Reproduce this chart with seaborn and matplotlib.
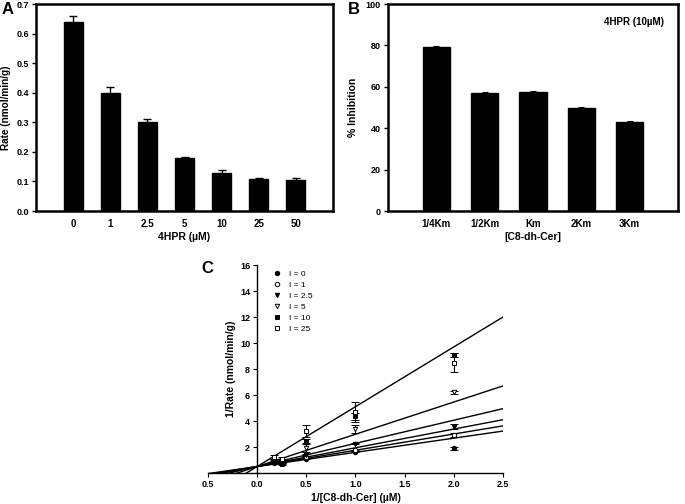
import numpy as np
import pandas as pd
import matplotlib
matplotlib.use('Agg')
import matplotlib.pyplot as plt
import seaborn as sns

# ---- panel A: rate vs 4HPR
hpr_conc = ['0', '1', '2.5', '5', '10', '25', '50']
rate = [0.64, 0.40, 0.30, 0.18, 0.13, 0.108, 0.104]
rate_err = [0.02, 0.02, 0.01, 0.002, 0.009, 0.005, 0.008]

# ---- panel B: % inhibition vs substrate
substrate = ['1/4Km', '1/2Km', 'Km', '2Km', '3Km']
inhibition = [79.2, 57.2, 57.5, 49.7, 43.1]
inhibition_err = [0.4, 0.3, 0.3, 0.4, 0.4]

# ---- panel C: Lineweaver-Burk
inv_s = [0.167, 0.25, 0.5, 1.0, 2.0]
inhib_labels = ['I = 0', 'I = 1', 'I = 2.5', 'I = 5', 'I = 10', 'I = 25']
inv_rate = {
    'I = 0':   [0.75, 0.80, 1.10, 1.65, 1.90],
    'I = 1':   [0.85, 0.90, 1.20, 1.75, 2.95],
    'I = 2.5': [0.80, 0.75, 1.40, 2.25, 3.55],
    'I = 5':   [0.90, 1.00, 1.90, 3.40, 6.20],
    'I = 10':  [0.95, 0.70, 2.45, 4.35, 9.10],
    'I = 25':  [1.20, 1.10, 3.25, 4.70, 8.50],
}
inv_rate_err = {
    'I = 0':   [0.05, 0.05, 0.05, 0.05, 0.10],
    'I = 1':   [0.05, 0.05, 0.10, 0.05, 0.15],
    'I = 2.5': [0.05, 0.05, 0.10, 0.05, 0.20],
    'I = 5':   [0.10, 0.05, 0.30, 0.30, 0.10],
    'I = 10':  [0.10, 0.10, 0.15, 0.30, 0.15],
    'I = 25':  [0.15, 0.10, 0.45, 0.80, 0.70],
}
# fitted lines (intercept at 1/[S]=0, slope)
fit_intercept = [0.5, 0.5, 0.5, 0.5, 0.5, 0.5]
fit_slope = [1.09, 1.25, 1.44, 1.78, 2.48, 4.6]
fit_x = [-0.5, 2.5]

markers = ['o', 'o', 'v', 'v', 's', 's']
filled = [True, False, True, False, True, False]

sns.set_style('ticks')
plt.rcParams['font.family'] = ['Liberation Sans', 'DejaVu Sans']
plt.rcParams['axes.edgecolor'] = 'black'
plt.rcParams['xtick.color'] = 'black'
plt.rcParams['ytick.color'] = 'black'
plt.rcParams['text.color'] = 'black'
plt.rcParams['axes.labelcolor'] = 'black'

fig = plt.figure(figsize=(6.85, 5.04), dpi=100)
axA = fig.add_axes([0.0526, 0.5813, 0.4336, 0.4107])
axB = fig.add_axes([0.5664, 0.5813, 0.4234, 0.4107])
axC = fig.add_axes([0.3036, 0.0615, 0.4307, 0.4127])

# --- A
dfA = pd.DataFrame({'conc': hpr_conc, 'rate': rate})
sns.barplot(data=dfA, x='conc', y='rate', ax=axA, color='black',
            saturation=1, width=0.51, edgecolor='black')
axA.errorbar(np.arange(len(hpr_conc)), rate, yerr=rate_err, fmt='none',
             ecolor='black', elinewidth=1, capsize=3, capthick=1)
axA.set_xlim(-1, len(hpr_conc))
axA.set_ylim(0, 0.7)
axA.set_yticks(np.arange(0, 0.71, 0.1))
axA.set_yticklabels([f'{v:.1f}' for v in np.arange(0, 0.71, 0.1)])
axA.set_xlabel('4HPR (µM)', fontsize=7.5, fontweight='bold', labelpad=2)
axA.set_ylabel('Rate (nmol/min/g)', fontsize=7.2, fontweight='bold', labelpad=4)
axA.tick_params(axis='x', length=0, labelsize=7, pad=6)
axA.tick_params(axis='y', length=3, width=1, labelsize=6.5, pad=2)
for lab in axA.get_xticklabels() + axA.get_yticklabels():
    lab.set_fontweight('bold')
for sp in axA.spines.values():
    sp.set_visible(True)
    sp.set_linewidth(1.8)
fig.text(0.003, 0.997, 'A', fontsize=12, fontweight='bold', va='top', ha='left')

# --- B
dfB = pd.DataFrame({'sub': substrate, 'inh': inhibition})
sns.barplot(data=dfB, x='sub', y='inh', ax=axB, color='black',
            saturation=1, width=0.56, edgecolor='black')
axB.errorbar(np.arange(len(substrate)), inhibition, yerr=inhibition_err,
             fmt='none', ecolor='black', elinewidth=0.8, capsize=2.5, capthick=0.8)
axB.set_xlim(-1, len(substrate))
axB.set_ylim(0, 100)
axB.set_yticks(range(0, 101, 20))
axB.set_xlabel('[C8-dh-Cer]', fontsize=7.5, fontweight='bold', labelpad=2)
axB.set_ylabel('% Inhibition', fontsize=7.5, fontweight='bold', labelpad=6)
axB.tick_params(axis='x', length=0, labelsize=7, pad=6)
axB.tick_params(axis='y', length=3, width=1, labelsize=6.5, pad=2)
for lab in axB.get_xticklabels() + axB.get_yticklabels():
    lab.set_fontweight('bold')
for sp in axB.spines.values():
    sp.set_visible(True)
    sp.set_linewidth(1.8)
axB.text(0.745, 0.915, '4HPR (10µM)', transform=axB.transAxes, fontsize=7,
         fontweight='bold', ha='left', va='center')
fig.text(0.508, 0.997, 'B', fontsize=12, fontweight='bold', va='top', ha='left')

# --- C
handles = []
for k, lab in enumerate(inhib_labels):
    xs = np.array(fit_x)
    axC.plot(xs, fit_intercept[k] + fit_slope[k] * xs, color='black', lw=1.0)
    fc = 'black' if filled[k] else 'white'
    axC.errorbar(inv_s, inv_rate[lab], yerr=inv_rate_err[lab], fmt=markers[k],
                 markersize=3.2, mfc=fc, mec='black', mew=0.7, ecolor='black',
                 elinewidth=0.8, capsize=3, capthick=0.8, zorder=3)
    h, = axC.plot([], [], markers[k], markersize=3.2, mfc=fc, mec='black',
                  mew=0.7, linestyle='none', label=lab)
    handles.append(h)

axC.set_xlim(-0.5, 2.5)
axC.set_ylim(0, 16)
axC.set_xticks(np.arange(-0.5, 2.51, 0.5))
axC.set_xticklabels(['0.5', '0.0', '0.5', '1.0', '1.5', '2.0', '2.5'])
axC.set_yticks(range(2, 17, 2))
sns.despine(ax=axC)
axC.spines['left'].set_position(('data', 0))
axC.spines['left'].set_linewidth(1.0)
axC.spines['bottom'].set_linewidth(1.0)
axC.tick_params(axis='both', length=3, width=0.8, labelsize=6.5, pad=2)
for lab in axC.get_xticklabels() + axC.get_yticklabels():
    lab.set_fontweight('bold')
axC.set_xlabel('1/[C8-dh-Cer] (µM)', fontsize=7.5, fontweight='bold', labelpad=3)
axC.set_ylabel('1/Rate (nmol/min/g)', fontsize=7.5, fontweight='bold')
axC.yaxis.set_label_coords(0.095, 0.5)
axC.legend(handles=handles, loc='upper left', bbox_to_anchor=(0.2, 1.005),
           frameon=False, fontsize=6, handletextpad=1.0, labelspacing=0.38,
           handlelength=1.0, borderpad=0.2)
fig.text(0.294, 0.482, 'C', fontsize=12, fontweight='bold', va='top', ha='left')

fig.savefig('out.png', dpi=100)
